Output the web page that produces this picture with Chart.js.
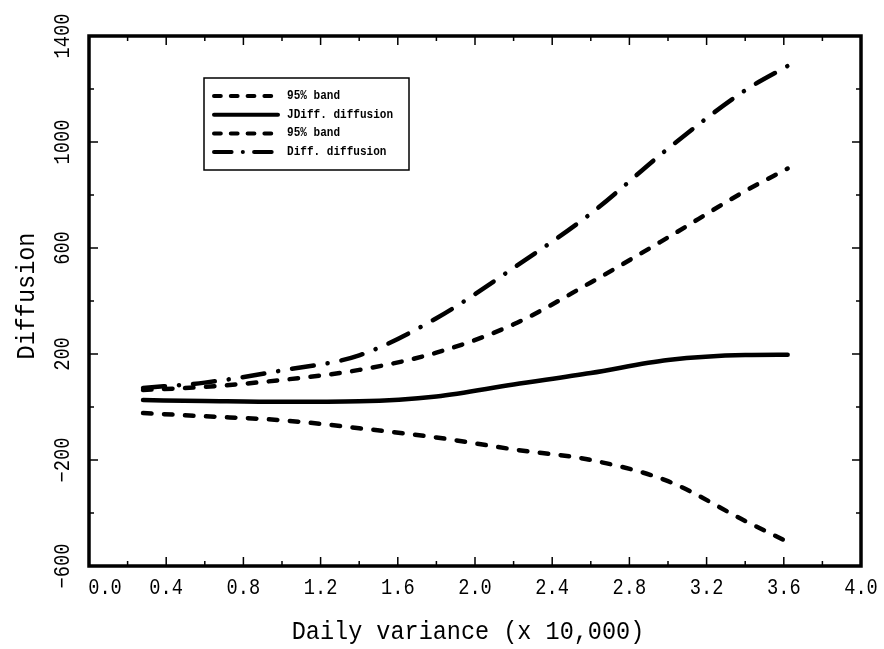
<!DOCTYPE html>
<html>
<head>
<meta charset="utf-8">
<script src="https://cdn.jsdelivr.net/npm/chart.js@4/dist/chart.umd.min.js"></script>
<style>
  html, body { margin: 0; padding: 0; background: #fff; }
  #wrap { width: 884px; height: 649px; }
</style>
</head>
<body>
<div id="wrap"><canvas id="chart" width="884" height="649"></canvas></div>
<script>
// data
const xValues = [0.28, 0.6, 1.0, 1.4, 1.8, 2.2, 2.6, 3.0, 3.4, 3.62];
const upperBand = [64, 76, 102, 140, 205, 312, 470, 640, 815, 900];
const jdiffDiffusion = [26, 23, 20, 22, 40, 85, 128, 177, 196, 197];
const lowerBand = [-23, -35, -50, -80, -115, -160, -200, -280, -430, -509];
const diffDiffusion = [72, 92, 138, 195, 335, 525, 730, 975, 1195, 1287];

const seriesLabels = ['95% band', 'JDiff. diffusion', '95% band', 'Diff. diffusion'];
const xTickLabels = ['0.0', '0.4', '0.8', '1.2', '1.6', '2.0', '2.4', '2.8', '3.2', '3.6', '4.0'];
const yTickLabels = ['-600', '-200', '200', '600', '1000', '1400'];

const xTitle = 'Daily variance (x 10,000)';
const yTitle = 'Diffusion';

const dashed = [8.5, 12.5];
const dashDot = [22, 14, 0.1, 14];

function toPoints(ys) {
  return xValues.map((x, i) => ({ x: x, y: ys[i] }));
}

function lineSet(label, ys, dash) {
  return {
    label: label,
    data: toPoints(ys),
    borderColor: '#000',
    borderWidth: 4.5,
    borderDash: dash,
    borderCapStyle: 'round',
    borderJoinStyle: 'round',
    pointRadius: 0,
    fill: false,
    cubicInterpolationMode: 'monotone'
  };
}

// condensed text helper (the original labels are tall and narrow)
function tallText(ctx, text, x, y, rot, sx) {
  ctx.save();
  ctx.translate(x, y);
  if (rot) ctx.rotate(-Math.PI / 2);
  ctx.scale(sx || 0.85, 1);
  ctx.fillText(text, 0, 0);
  ctx.restore();
}

// frame, inward ticks, tick labels, titles and legend
const framePlugin = {
  id: 'frame',
  afterDraw(chart) {
    const ctx = chart.ctx;
    const a = chart.chartArea;
    const xs = chart.scales.x;
    const ys = chart.scales.y;

    ctx.save();
    ctx.strokeStyle = '#000';

    // ticks
    ctx.lineWidth = 1.5;
    for (let i = 0; i <= 20; i++) {
      const px = xs.getPixelForValue(i * 0.2);
      const len = i % 2 === 0 ? 9 : 5;
      ctx.beginPath();
      ctx.moveTo(px, a.bottom); ctx.lineTo(px, a.bottom - len);
      ctx.moveTo(px, a.top); ctx.lineTo(px, a.top + len);
      ctx.stroke();
    }
    for (let v = -600; v <= 1400; v += 200) {
      const py = ys.getPixelForValue(v);
      const len = ((v + 600) / 200) % 2 === 0 ? 9 : 5;
      ctx.beginPath();
      ctx.moveTo(a.left, py); ctx.lineTo(a.left + len, py);
      ctx.moveTo(a.right, py); ctx.lineTo(a.right - len, py);
      ctx.stroke();
    }

    // frame
    ctx.lineWidth = 3.5;
    ctx.strokeRect(a.left, a.top, a.right - a.left, a.bottom - a.top);

    // tick labels
    ctx.fillStyle = '#000';
    ctx.font = '22px "Liberation Mono"';
    ctx.textAlign = 'center';
    ctx.textBaseline = 'middle';
    xTickLabels.forEach((t, i) => {
      let px = xs.getPixelForValue(i * 0.4);
      if (i === 0) px += 16;
      tallText(ctx, t, px, 588, false);
    });
    yTickLabels.forEach((t) => {
      const py = ys.getPixelForValue(parseFloat(t));
      tallText(ctx, t.replace('-', '\u2212'), 63, py, true);
    });

    // axis titles
    ctx.font = '25px "Liberation Mono"';
    tallText(ctx, xTitle, 468, 632, false, 0.94);
    tallText(ctx, yTitle, 27, 296, true, 0.94);

    // legend
    ctx.lineWidth = 1.5;
    ctx.strokeRect(204, 78, 205, 92);
    ctx.font = 'bold 12px "Liberation Mono"';
    ctx.textAlign = 'left';
    chart.data.datasets.forEach((ds, i) => {
      const ly = 96 + i * 18.7;
      ctx.beginPath();
      ctx.lineWidth = 4;
      ctx.lineCap = 'round';
      ctx.setLineDash(ds.borderDash.length ? ds.borderDash.map(d => d * 0.8) : []);
      ctx.moveTo(214, ly);
      ctx.lineTo(278, ly);
      ctx.stroke();
      ctx.setLineDash([]);
      ctx.save();
      ctx.translate(287, ly);
      ctx.scale(0.92, 1);
      ctx.fillText(ds.label, 0, 0);
      ctx.restore();
    });

    ctx.restore();
  }
};

const chart = new Chart(document.getElementById('chart').getContext('2d'), {
  type: 'line',
  data: {
    datasets: [
      lineSet(seriesLabels[0], upperBand, dashed),
      lineSet(seriesLabels[1], jdiffDiffusion, []),
      lineSet(seriesLabels[2], lowerBand, dashed),
      lineSet(seriesLabels[3], diffDiffusion, dashDot)
    ]
  },
  options: {
    responsive: false,
    animation: false,
    layout: { padding: { left: 89, right: 23, top: 36, bottom: 83 } },
    plugins: {
      legend: { display: false },
      tooltip: { enabled: false }
    },
    scales: {
      x: { type: 'linear', min: 0, max: 4, display: false },
      y: { type: 'linear', min: -600, max: 1400, display: false }
    }
  },
  plugins: [framePlugin]
});
</script>
</body>
</html>
